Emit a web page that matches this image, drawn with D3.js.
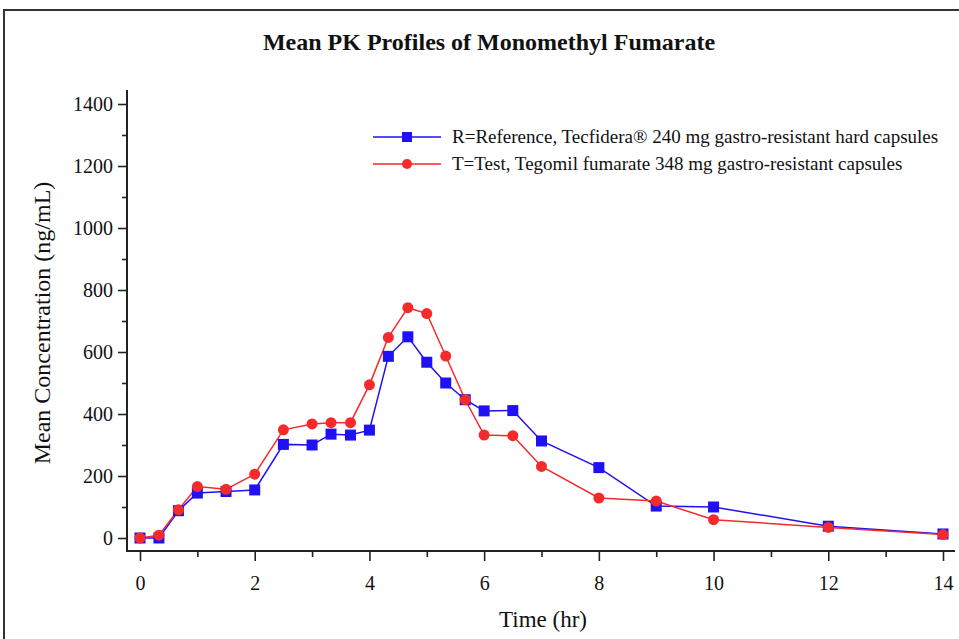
<!DOCTYPE html>
<html><head><meta charset="utf-8">
<script src="https://cdn.jsdelivr.net/npm/d3@7"></script>
<style>body{margin:0;background:#fff}svg{display:block}</style>
</head><body>
<script>
const times = [0,0.33,0.67,1,1.5,2,2.5,3,3.33,3.67,4,4.33,4.67,5,5.33,5.67,6,6.5,7,8,9,10,12,14];
const refValues = [0,0,88,145,150,155,302,300,335,332,348,586,649,567,500,446,410,411,313,227,103,100,38,13];
const testValues = [0,9,91,166,157,206,349,368,372,372,494,647,743,724,587,446,332,330,231,129,119,59,34,11];
const seriesNames = ["R=Reference, Tecfidera® 240 mg gastro-resistant hard capsules","T=Test, Tegomil fumarate 348 mg gastro-resistant capsules"];
const xTicks = [0,2,4,6,8,10,12,14];
const yTicks = [0,200,400,600,800,1000,1200,1400];
const title = "Mean PK Profiles of Monomethyl Fumarate";
const xLabel = "Time (hr)";
const yLabel = "Mean Concentration (ng/mL)";

const W=959,H=639;
const svg=d3.select("body").append("svg").attr("width",W).attr("height",H);
const font="'Liberation Serif','Times New Roman',serif";
svg.append("rect").attr("x",4).attr("y",10).attr("width",W+20).attr("height",H+20)
  .attr("fill","none").attr("stroke","#333").attr("stroke-width",2);

const x=d3.scaleLinear().domain([0,14]).range([140,943]);
const y=d3.scaleLinear().domain([0,1400]).range([538,104]);
const axX=127, axY=551;
const axisCol="#222";

svg.append("text").attr("x",489).attr("y",50).attr("text-anchor","middle")
  .attr("font-family",font).attr("font-weight","bold").attr("font-size",24)
  .attr("fill","#111").text(title);

svg.append("line").attr("x1",axX).attr("x2",axX).attr("y1",90).attr("y2",axY+1).attr("stroke",axisCol).attr("stroke-width",2);
svg.append("line").attr("x1",axX-1).attr("x2",955).attr("y1",axY).attr("y2",axY).attr("stroke",axisCol).attr("stroke-width",2);

const yAxis=d3.axisLeft(y).tickValues(d3.range(0,1401,100)).tickSize(0).tickFormat("");
const yg=svg.append("g").attr("transform",`translate(${axX},0)`).call(yAxis);
yg.select(".domain").remove();
yg.selectAll(".tick").append("line").attr("x1",d=>d%200===0?-9:-5).attr("x2",0)
  .attr("stroke",axisCol).attr("stroke-width",1.6);
yg.selectAll(".tick").filter(d=>yTicks.includes(d)).append("text").attr("x",-14).attr("dy","0.34em")
  .attr("text-anchor","end").attr("font-family",font).attr("font-size",20).attr("fill","#111").text(d=>d);

const xAxis=d3.axisBottom(x).tickValues(d3.range(0,15,1)).tickSize(0).tickFormat("");
const xg=svg.append("g").attr("transform",`translate(0,${axY})`).call(xAxis);
xg.select(".domain").remove();
xg.selectAll(".tick").append("line").attr("y1",0).attr("y2",d=>d%2===0?10:6)
  .attr("stroke",axisCol).attr("stroke-width",1.6);
xg.selectAll(".tick").filter(d=>xTicks.includes(d)).append("text").attr("y",39)
  .attr("text-anchor","middle").attr("font-family",font).attr("font-size",20).attr("fill","#111").text(d=>d);

svg.append("text").attr("x",543).attr("y",627).attr("text-anchor","middle")
  .attr("font-family",font).attr("font-size",23).attr("fill","#111").text(xLabel);
svg.append("text").attr("transform","translate(50,323) rotate(-90)").attr("text-anchor","middle")
  .attr("font-family",font).attr("font-size",24).attr("fill","#111").text(yLabel);

const blue="#2010f5", red="#f52a2a";
const line=d3.line().x(d=>x(d[0])).y(d=>y(d[1]));
const ref=times.map((t,i)=>[t,refValues[i]]);
const tst=times.map((t,i)=>[t,testValues[i]]);
svg.append("path").datum(ref).attr("d",line).attr("fill","none").attr("stroke",blue).attr("stroke-width",1.5);
svg.append("path").datum(tst).attr("d",line).attr("fill","none").attr("stroke",red).attr("stroke-width",1.5);
svg.selectAll(".sq").data(ref).enter().append("rect").attr("x",d=>x(d[0])-5.5).attr("y",d=>y(d[1])-5.5)
  .attr("width",11).attr("height",11).attr("fill",blue);
svg.selectAll(".ci").data(tst).enter().append("circle").attr("cx",d=>x(d[0])).attr("cy",d=>y(d[1]))
  .attr("r",5.5).attr("fill",red);

const lg=svg.append("g");
[[blue,"sq"],[red,"ci"]].forEach((s,i)=>{
  const yy=137+i*27;
  lg.append("line").attr("x1",373).attr("x2",441).attr("y1",yy).attr("y2",yy).attr("stroke",s[0]).attr("stroke-width",1.5);
  if(s[1]==="sq") lg.append("rect").attr("x",407-5).attr("y",yy-5).attr("width",10).attr("height",10).attr("fill",s[0]);
  else lg.append("circle").attr("cx",407).attr("cy",yy).attr("r",5).attr("fill",s[0]);
  lg.append("text").attr("x",452).attr("y",yy).attr("dy","0.33em").attr("font-family",font)
    .attr("font-size",19).attr("fill","#111").text(seriesNames[i]);
});
</script>
</body></html>
